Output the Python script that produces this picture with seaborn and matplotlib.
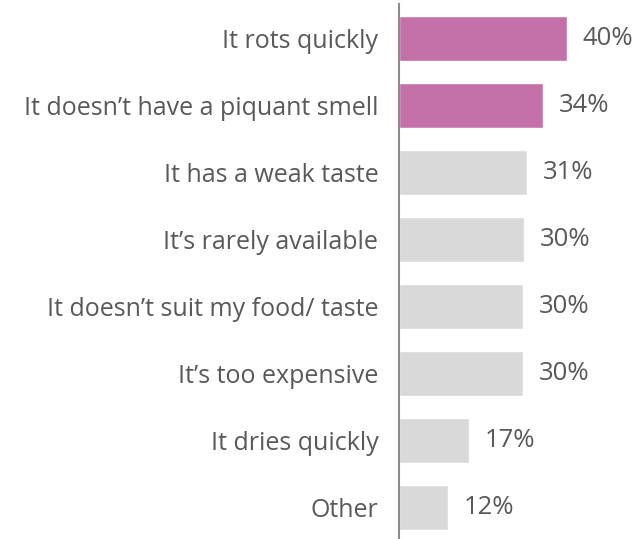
import matplotlib
matplotlib.use("Agg")
import matplotlib.pyplot as plt
import seaborn as sns
import pandas as pd

categories = ["It rots quickly", "It doesn\u2019t have a piquant smell", "It has a weak taste",
              "It\u2019s rarely available", "It doesn\u2019t suit my food/ taste", "It\u2019s too expensive",
              "It dries quickly", "Other"]
values = [40.0, 34.3, 30.6, 29.8, 29.6, 29.6, 16.8, 11.7]
value_labels = ["40%", "34%", "31%", "30%", "30%", "30%", "17%", "12%"]
highlight = ["yes", "yes", "no", "no", "no", "no", "no", "no"]

df = pd.DataFrame({"category": categories, "value": values, "highlight": highlight})

sns.set_theme(style="white")
plt.rcParams["font.family"] = ["Open Sans", "DejaVu Sans"]

W, H = 638, 539
fig = plt.figure(figsize=(W / 100, H / 100), dpi=100)
ax0 = 398.5
ax = fig.add_axes([ax0 / W, 0, (W - ax0) / W, (539 - 4) / H])

sns.barplot(data=df, y="category", x="value", hue="highlight",
            palette={"yes": "#C471A9", "no": "#D9D9D9"}, dodge=False,
            width=0.665, legend=False, ax=ax, orient="h", saturation=1)

px_per = 4.205
ax.set_xlim(0, (W - ax0) / px_per)
ax.set_ylim(7 + (539 - 507.3) / 67, -(38.3 - 4) / 67)

for sp in ["top", "right", "bottom"]:
    ax.spines[sp].set_visible(False)
ax.spines["left"].set_color("#8C8C8C")
ax.spines["left"].set_linewidth(1.5)
ax.set_xticks([])
ax.set_xlabel("")
ax.set_ylabel("")
ax.tick_params(axis="y", length=0, pad=14.5, labelsize=18, labelcolor="#595959")

for i, (v, lab) in enumerate(zip(values, value_labels)):
    ax.text(v + 16 / px_per, i, lab, va="center", ha="left", fontsize=18.5, color="#595959")

fig.savefig("out.png", dpi=100)
